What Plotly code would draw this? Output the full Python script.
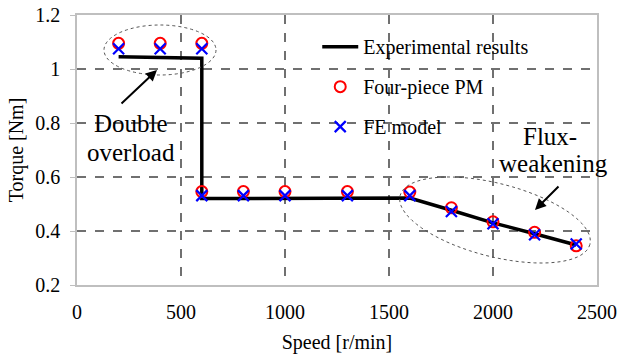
import numpy as np
import plotly.graph_objects as go

# ---- data ----
exp_speed = [200, 600, 600, 1600, 1800, 2000, 2200, 2400]
exp_torque = [1.045, 1.04, 0.52, 0.522, 0.477, 0.43, 0.39, 0.348]

pm_speed = [200, 400, 600, 600, 800, 1000, 1300, 1600, 1800, 2000, 2200, 2400]
pm_torque = [1.095, 1.095, 1.095, 0.546, 0.546, 0.546, 0.546, 0.544, 0.486, 0.434, 0.395, 0.345]

fe_speed = [200, 400, 600, 600, 800, 1000, 1300, 1600, 1800, 2000, 2200, 2400]
fe_torque = [1.075, 1.075, 1.075, 0.531, 0.531, 0.531, 0.531, 0.531, 0.472, 0.427, 0.386, 0.352]

x_ticks = [0, 500, 1000, 1500, 2000, 2500]
y_ticks = [0.2, 0.4, 0.6, 0.8, 1.0, 1.2]
y_ticktext = ["0.2", "0.4", "0.6", "0.8", "1", "1.2"]

FONT = "Liberation Serif, Times New Roman, serif"

# plot-area geometry (pixels) used for decorative shapes
L, R, T, B = 77, 597, 15, 285
X0, X1, Y0, Y1 = 0, 2500, 0.2, 1.2


def px2data(px, py):
    x = X0 + (px - L) / (R - L) * (X1 - X0)
    y = Y1 - (py - T) / (B - T) * (Y1 - Y0)
    return x, y


fig = go.Figure()
fig.add_trace(go.Scatter(x=exp_speed, y=exp_torque, mode="lines",
                         line=dict(color="black", width=3.5),
                         name="Experimental results", legendgroup="a"))
fig.add_trace(go.Scatter(x=pm_speed, y=pm_torque, mode="markers",
                         marker=dict(symbol="circle-open", size=11, color="#ff0000",
                                     line=dict(width=2, color="#ff0000")),
                         name="Four-piece PM", legendgroup="b"))
fig.add_trace(go.Scatter(x=fe_speed, y=fe_torque, mode="markers",
                         marker=dict(symbol="x-thin-open", size=11, color="#0000ff",
                                     line=dict(width=2.2, color="#0000ff")),
                         name="FE model", legendgroup="c"))

# ellipse around double-overload points
ex0, ey0 = px2data(104, 25)
ex1, ey1 = px2data(216, 75)
fig.add_shape(type="circle", xref="x", yref="y", x0=ex0, x1=ex1, y0=ey1, y1=ey0,
              line=dict(color="#555555", width=1, dash="dot"))

# rotated ellipse around flux-weakening points
cx, cy, a, b, th = 495, 220, 98, 36.6, np.deg2rad(14.4)
t = np.linspace(0, 2 * np.pi, 73)
pxs = cx + a * np.cos(t) * np.cos(th) - b * np.sin(t) * np.sin(th)
pys = cy + a * np.cos(t) * np.sin(th) + b * np.sin(t) * np.cos(th)
pts = [px2data(p, q) for p, q in zip(pxs, pys)]
path = "M " + " L ".join(f"{x:.2f},{y:.4f}" for x, y in pts) + " Z"
fig.add_shape(type="path", xref="x", yref="y", path=path,
              line=dict(color="#555555", width=1, dash="dot"))

# arrows
hx, hy = px2data(157, 70)
fig.add_annotation(x=hx, y=hy, ax=-37, ay=35, text="", showarrow=True,
                   arrowhead=2, arrowsize=1.1, arrowwidth=2, arrowcolor="black")
hx, hy = px2data(535, 210)
fig.add_annotation(x=hx, y=hy, ax=25, ay=-25, text="", showarrow=True,
                   arrowhead=2, arrowsize=1.1, arrowwidth=2, arrowcolor="black")

# texts
for txt, (px, py) in [("Double", (131, 123)), ("overload", (131, 152)),
                      ("Flux-", (550, 136)), ("weakening", (553, 163))]:
    tx, ty = px2data(px, py)
    fig.add_annotation(x=tx, y=ty, text=txt, showarrow=False,
                       font=dict(family=FONT, size=25, color="black"))

fig.update_layout(
    width=619, height=356,
    margin=dict(l=L, r=619 - R, t=T, b=356 - B),
    paper_bgcolor="white", plot_bgcolor="white",
    font=dict(family=FONT, size=19, color="black"),
    showlegend=True,
    legend=dict(x=0.462, y=0.955, xanchor="left", yanchor="top",
                bgcolor="rgba(0,0,0,0)", tracegroupgap=11, itemwidth=36,
                font=dict(family=FONT, size=20, color="black")),
    xaxis=dict(range=[X0, X1], tickvals=x_ticks, showgrid=True,
               gridcolor="#707070", griddash="dash", gridwidth=1.5,
               showline=True, linecolor="#bfbfbf", linewidth=1.5, mirror=True,
               zeroline=False, ticks="", tickfont=dict(size=20),
               ticklabelstandoff=8, automargin=False,
               title=dict(text="Speed [r/min]", font=dict(size=20), standoff=13)),
    yaxis=dict(range=[Y0, Y1], tickvals=y_ticks, ticktext=y_ticktext, showgrid=True,
               gridcolor="#707070", griddash="dash", gridwidth=1.5,
               showline=True, linecolor="#bfbfbf", linewidth=1.5, mirror=True,
               zeroline=False, ticks="outside", ticklen=5, tickcolor="#bfbfbf",
               tickfont=dict(size=20), ticklabelstandoff=6, automargin=False,
               title=dict(text="Torque [Nm]", font=dict(size=20), standoff=6)),
)

fig.write_html("out.html")
